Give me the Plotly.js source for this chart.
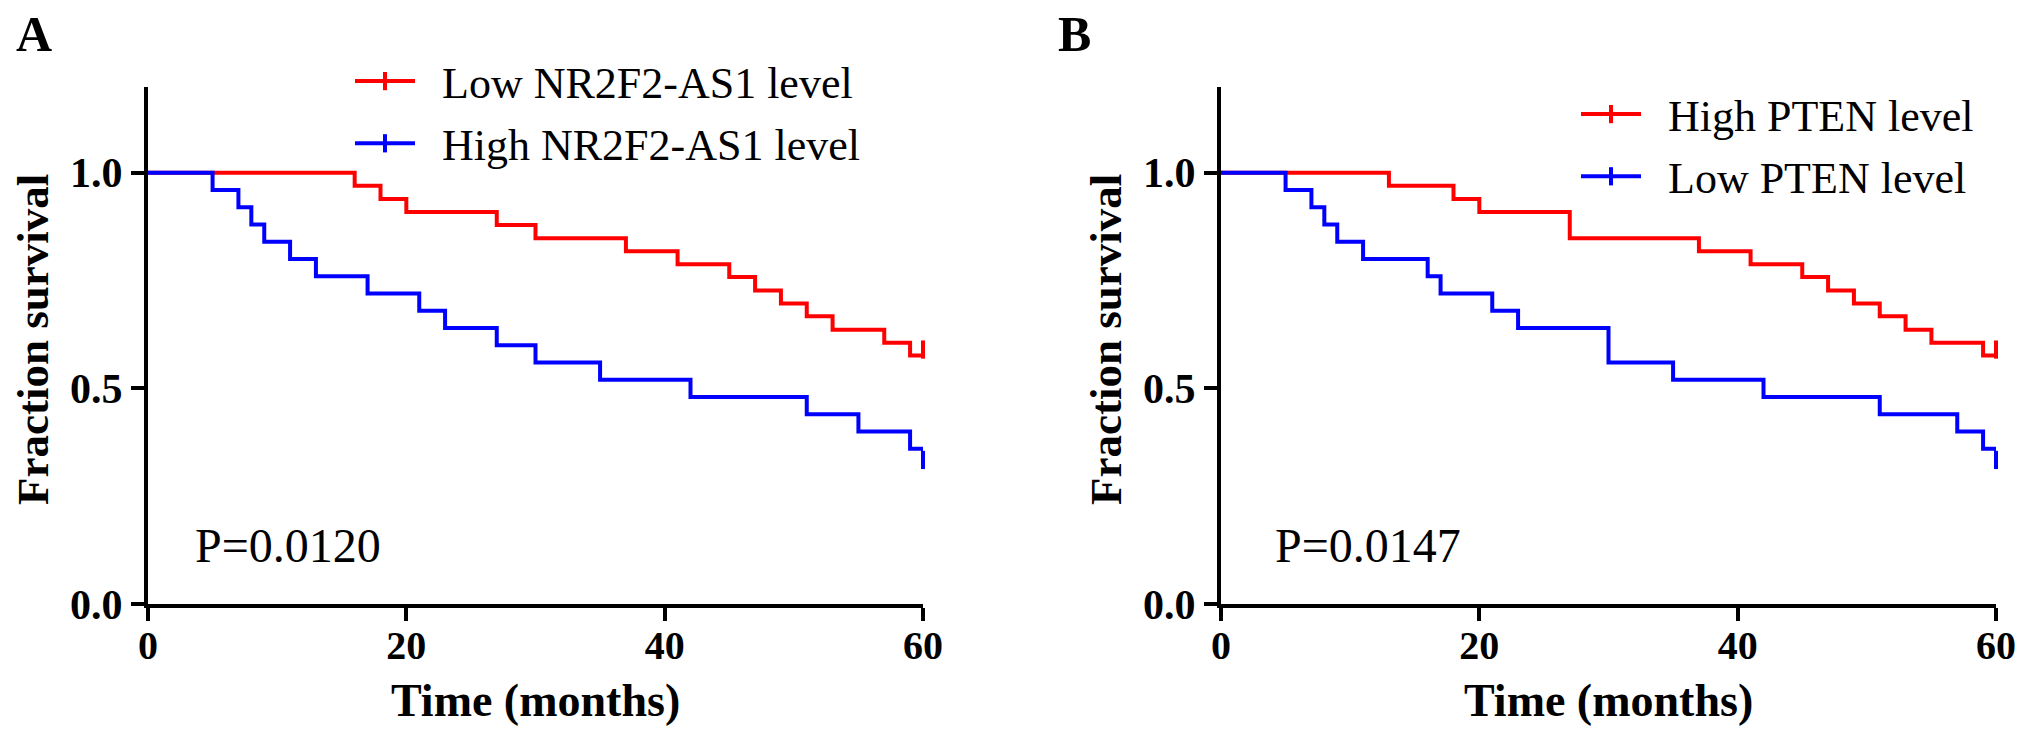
<!DOCTYPE html>
<html>
<head>
<meta charset="utf-8">
<script src="https://cdn.plot.ly/plotly-3.0.1.min.js"></script>
<style>
  html, body { margin: 0; padding: 0; background: white; }
  #graph { width: 2031px; height: 733px; }
</style>
</head>
<body>
<div id="graph"></div>
<script>
// follow-up ends at 60 months, everyone left is censored there
var followUp = 60;

// panel A: NR2F2-AS1
var timeLowA  = [0, 16, 18, 20, 27, 30, 37, 41, 45, 47, 49, 51, 53, 57, 59];
var survLowA  = [1, 0.970, 0.939, 0.909, 0.879, 0.848, 0.818, 0.788, 0.758, 0.727, 0.697, 0.667, 0.636, 0.606, 0.576];
var timeHighA = [0, 5, 7, 8, 9, 11, 13, 17, 21, 23, 27, 30, 35, 42, 51, 55, 59, 60];
var survHighA = [1, 0.96, 0.92, 0.88, 0.84, 0.80, 0.76, 0.72, 0.68, 0.64, 0.60, 0.56, 0.52, 0.48, 0.44, 0.40, 0.36, 0.32];

// panel B: PTEN
var timeHighB = [0, 13, 18, 20, 27, 37, 41, 45, 47, 49, 51, 53, 55, 59];
var survHighB = [1, 0.970, 0.939, 0.909, 0.848, 0.818, 0.788, 0.758, 0.727, 0.697, 0.667, 0.636, 0.606, 0.576];
var timeLowB  = [0, 5, 7, 8, 9, 11, 16, 17, 21, 23, 30, 35, 42, 51, 57, 59, 60];
var survLowB  = [1, 0.96, 0.92, 0.88, 0.84, 0.80, 0.76, 0.72, 0.68, 0.64, 0.56, 0.52, 0.48, 0.44, 0.40, 0.36, 0.32];

var namesA = ['Low NR2F2-AS1 level', 'High NR2F2-AS1 level'];
var namesB = ['High PTEN level', 'Low PTEN level'];
var pValues = ['P=0.0120', 'P=0.0147'];
var panelLetters = ['A', 'B'];

var xTicks = [0, 20, 40, 60];
var yTicks = [0, 0.5, 1.0];

var RED = 'rgb(255,0,0)';
var BLUE = 'rgb(0,0,255)';
var FONT = '"Liberation Serif", "Times New Roman", serif';
var W = 2031, H = 733;

// censor tick sits just above the curve
var censorLift = 0.014;

function kmTraces(times, surv, name, color, xa, ya, legend, group)
{
    var x = times.slice();
    var y = surv.slice();
    if (x[x.length - 1] < followUp) {
        x.push(followUp);
        y.push(y[y.length - 1]);
    }
    var step = {
        x: x, y: y,
        type: 'scatter', mode: 'lines',
        line: {shape: 'hv', color: color, width: 4},
        xaxis: xa, yaxis: ya,
        legendgroup: group, showlegend: false,
        hoverinfo: 'skip'
    };
    var cens = {
        x: [followUp], y: [surv[surv.length - 1] + censorLift],
        type: 'scatter', mode: 'lines+markers',
        // en space keeps the label clear of the legend line
        name: '\u2002' + name,
        line: {color: color, width: 4},
        marker: {symbol: 'line-ns', size: 13, color: color, line: {color: color, width: 4}},
        cliponaxis: false,
        xaxis: xa, yaxis: ya,
        legend: legend, legendgroup: group
    };
    return [step, cens];
}

var data = []
    .concat(kmTraces(timeLowA, survLowA, namesA[0], RED, 'x', 'y', 'legend', 'a1'))
    .concat(kmTraces(timeHighA, survHighA, namesA[1], BLUE, 'x', 'y', 'legend', 'a2'))
    .concat(kmTraces(timeHighB, survHighB, namesB[0], RED, 'x2', 'y2', 'legend2', 'b1'))
    .concat(kmTraces(timeLowB, survLowB, namesB[1], BLUE, 'x2', 'y2', 'legend2', 'b2'));

function px(v) { return v / W; }
function py(v) { return (H - v) / H; }

function xAxis(dom, anchor)
{
    return {
        domain: dom, anchor: anchor,
        range: [0, followUp],
        tickvals: xTicks, ticktext: xTicks.map(String),
        ticks: 'outside', ticklen: 13, tickwidth: 4, tickcolor: 'black',
        ticklabelstandoff: -10,
        showline: true, linewidth: 4, linecolor: 'black',
        showgrid: false, zeroline: false, fixedrange: true,
        tickfont: {family: FONT, size: 40, color: 'black', weight: 'bold'}
    };
}
function yAxis(anchor)
{
    return {
        domain: [py(604), py(86.5)], anchor: anchor,
        range: [0, 1.2],
        tickvals: yTicks, ticktext: yTicks.map(function (v) { return v.toFixed(1); }),
        ticks: 'outside', ticklen: 13, tickwidth: 4, tickcolor: 'black',
        showline: true, linewidth: 4, linecolor: 'black',
        showgrid: false, zeroline: false, fixedrange: true,
        tickfont: {family: FONT, size: 42, color: 'black', weight: 'bold'}
    };
}

var legendStyle = {
    font: {family: FONT, size: 44, color: 'black'},
    bgcolor: 'rgba(0,0,0,0)',
    itemwidth: 60,
    tracegroupgap: 2,
    xanchor: 'left', yanchor: 'top'
};

function note(text, x, y, size, angle)
{
    return {
        text: text, x: px(x), y: py(y), xref: 'paper', yref: 'paper',
        xanchor: 'center', yanchor: 'middle', textangle: angle || 0,
        showarrow: false, font: {family: FONT, size: size, color: 'black'}
    };
}

var layout = {
    width: W, height: H,
    margin: {l: 0, r: 0, t: 0, b: 0},
    paper_bgcolor: 'white',
    plot_bgcolor: 'white',
    font: {family: FONT, color: 'black'},
    xaxis: xAxis([px(148), px(923)], 'y'),
    yaxis: yAxis('x'),
    xaxis2: xAxis([px(1221), px(1996)], 'y2'),
    yaxis2: yAxis('x2'),
    legend: Object.assign({x: px(350), y: py(46)}, legendStyle),
    legend2: Object.assign({x: px(1576), y: py(79)}, legendStyle),
    annotations: [
        note('<b>' + panelLetters[0] + '</b>', 34, 34, 50),
        note('<b>' + panelLetters[1] + '</b>', 1074, 34, 50),
        note('<b>Fraction survival</b>', 33, 340, 45, -90),
        note('<b>Fraction survival</b>', 1106, 340, 45, -90),
        note('<b>Time (months)</b>', 535.5, 700, 46),
        note('<b>Time (months)</b>', 1608.5, 700, 46),
        note(pValues[0], 288, 545, 48),
        note(pValues[1], 1368, 545, 48)
    ]
};

Plotly.newPlot('graph', data, layout, {staticPlot: true});
</script>
</body>
</html>
